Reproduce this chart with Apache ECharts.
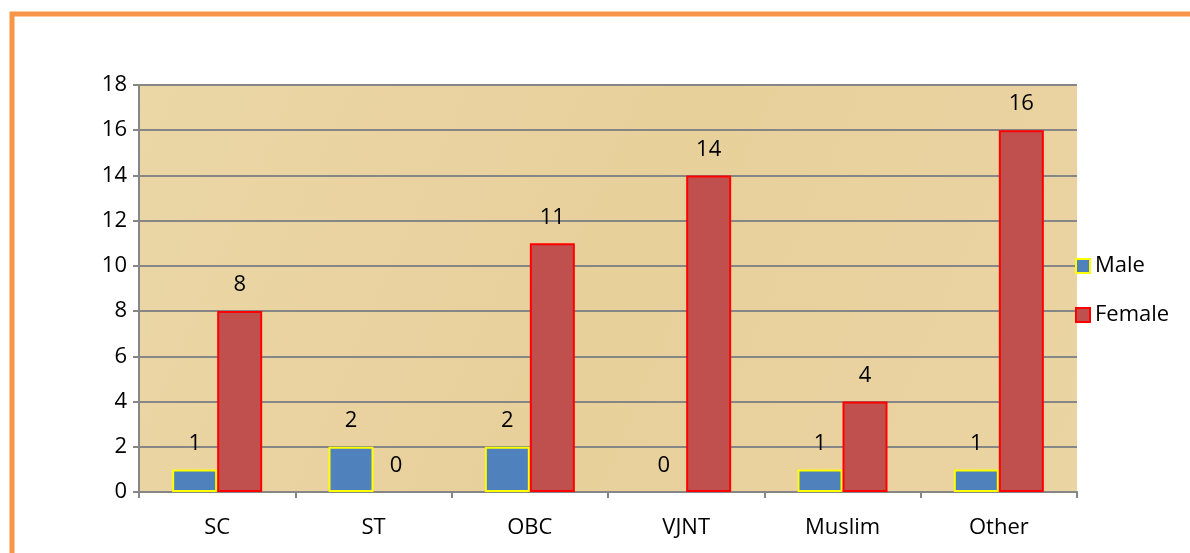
<!DOCTYPE html>
<html>
<head>
<meta charset="utf-8">
<script src="https://cdn.jsdelivr.net/npm/echarts@6/dist/echarts.min.js"></script>
<style>
  html, body { margin: 0; padding: 0; background: #fff; }
  #chart { width: 1190px; height: 553px; }
</style>
</head>
<body>
<div id="chart"></div>
<script>
  // data
  const categories = ['SC', 'ST', 'OBC', 'VJNT', 'Muslim', 'Other'];
  const maleValues = [1, 2, 2, 0, 1, 1];
  const femaleValues = [8, 0, 11, 14, 4, 16];
  const yTicks = { min: 0, max: 18, interval: 2 };

  const chart = echarts.init(document.getElementById('chart'));
  const font = '"Open Sans", "Noto Sans", sans-serif';

  const labelStyle = {
    show: true,
    position: 'top',
    distance: 15,
    color: '#000',
    fontSize: 22,
    fontFamily: font
  };

  // zero bars get no outline, like the original
  const toItems = (values) => values.map(v => v === 0 ? { value: v, itemStyle: { borderWidth: 0 } } : v);

  const option = {
    animation: false,
    backgroundColor: '#fff',
    graphic: [
      {
        // orange frame
        type: 'rect',
        shape: { x: 12, y: 14, width: 1300, height: 700 },
        style: { fill: 'none', stroke: '#F79646', lineWidth: 5 },
        z: 0
      }
    ],
    grid: {
      left: 139,
      right: 113,
      top: 85,
      bottom: 61,
      show: true,
      borderWidth: 0,
      backgroundColor: new echarts.graphic.LinearGradient(0, 0, 1, 1, [
        { offset: 0, color: '#EBD6A6' },
        { offset: 0.5, color: '#E8D09B' },
        { offset: 1, color: '#EAD4A2' }
      ])
    },
    legend: {
      orient: 'vertical',
      left: 1070,
      top: 250,
      itemWidth: 14,
      itemHeight: 14,
      itemGap: 27,
      icon: 'rect',
      textStyle: { fontSize: 22, fontFamily: font, color: '#000' },
      data: ['Male', 'Female']
    },
    xAxis: {
      type: 'category',
      data: categories,
      axisLine: { lineStyle: { color: '#868686', width: 2 } },
      axisTick: { show: true, length: 6, lineStyle: { color: '#868686', width: 2 } },
      axisLabel: { color: '#000', fontSize: 22, fontFamily: font, margin: 25 }
    },
    yAxis: {
      type: 'value',
      min: yTicks.min,
      max: yTicks.max,
      interval: yTicks.interval,
      axisLine: { show: true, lineStyle: { color: '#868686', width: 2 } },
      axisTick: { show: true, length: 6, lineStyle: { color: '#868686', width: 2 } },
      axisLabel: { color: '#000', fontSize: 22, fontFamily: font, margin: 12 },
      splitLine: { lineStyle: { color: '#868686', width: 2 } }
    },
    series: [
      {
        name: 'Male',
        type: 'bar',
        data: toItems(maleValues),
        barWidth: 45,
        barGap: '0%',
        itemStyle: { color: '#4F81BD', borderColor: '#FFFF00', borderWidth: 2 },
        label: labelStyle
      },
      {
        name: 'Female',
        type: 'bar',
        data: toItems(femaleValues),
        barWidth: 45,
        itemStyle: { color: '#C0504D', borderColor: '#FF0000', borderWidth: 2 },
        label: labelStyle
      }
    ]
  };

  chart.setOption(option);
</script>
</body>
</html>
